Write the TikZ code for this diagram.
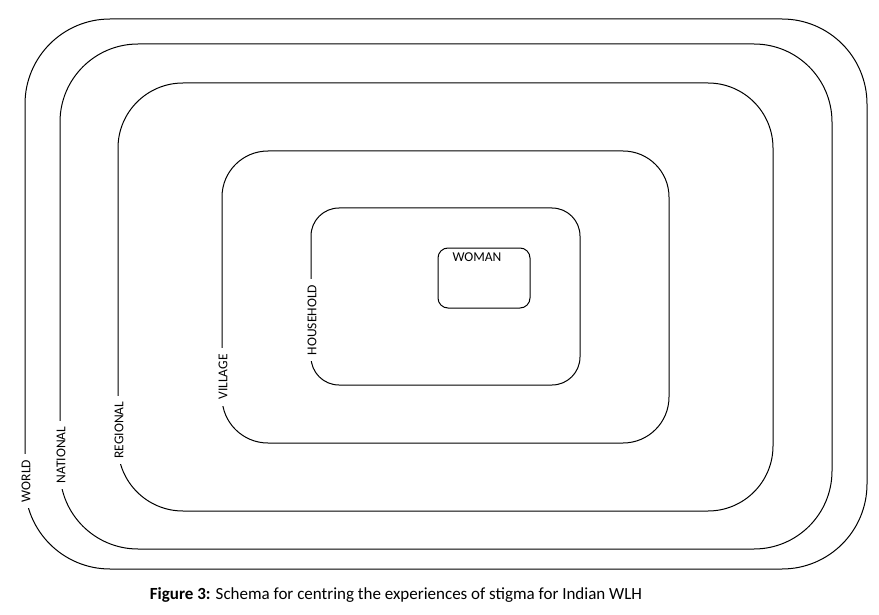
\documentclass[tikz,border=0pt]{standalone}
\usepackage{fontspec}
\setmainfont{Carlito}
\begin{document}
\begin{tikzpicture}[x=1pt,y=-1pt,
    ring/.style={line width=1pt, black},
    lbl/.style={rotate=90, fill=white, inner xsep=6pt, inner ysep=1pt, font=\fontsize{13.5}{15}\selectfont}]

    \useasboundingbox (0,0) rectangle (879,615);

    % nested rings
    \draw[ring, rounded corners=85] (25,19) rectangle (867,569);
    \draw[ring, rounded corners=78] (60,44) rectangle (832,549);
    \draw[ring, rounded corners=65] (118,83) rectangle (773,511);
    \draw[ring, rounded corners=46] (222,151) rectangle (669,443);
    \draw[ring, rounded corners=28] (311,208) rectangle (580,385);
    \draw[ring, rounded corners=10] (438,248) rectangle (530,308);

    % labels on the left sides
    \node[lbl] (world) at (26,481) {WORLD};
    \node[lbl] (national) at (61,455) {NATIONAL};
    \node[lbl] (regional) at (119,430) {REGIONAL};
    \node[lbl] (village) at (223,377) {VILLAGE};
    \node[lbl] (household) at (312,320) {HOUSEHOLD};
    \node[font=\fontsize{13.5}{15}\selectfont] (woman) at (477,257) {WOMAN};

    \node[font=\fontsize{17}{20}\selectfont] (caption) at (396,595) {\textbf{Figure 3:} Schema for centring the experiences of stigma for Indian WLH};

\end{tikzpicture}
\end{document}
